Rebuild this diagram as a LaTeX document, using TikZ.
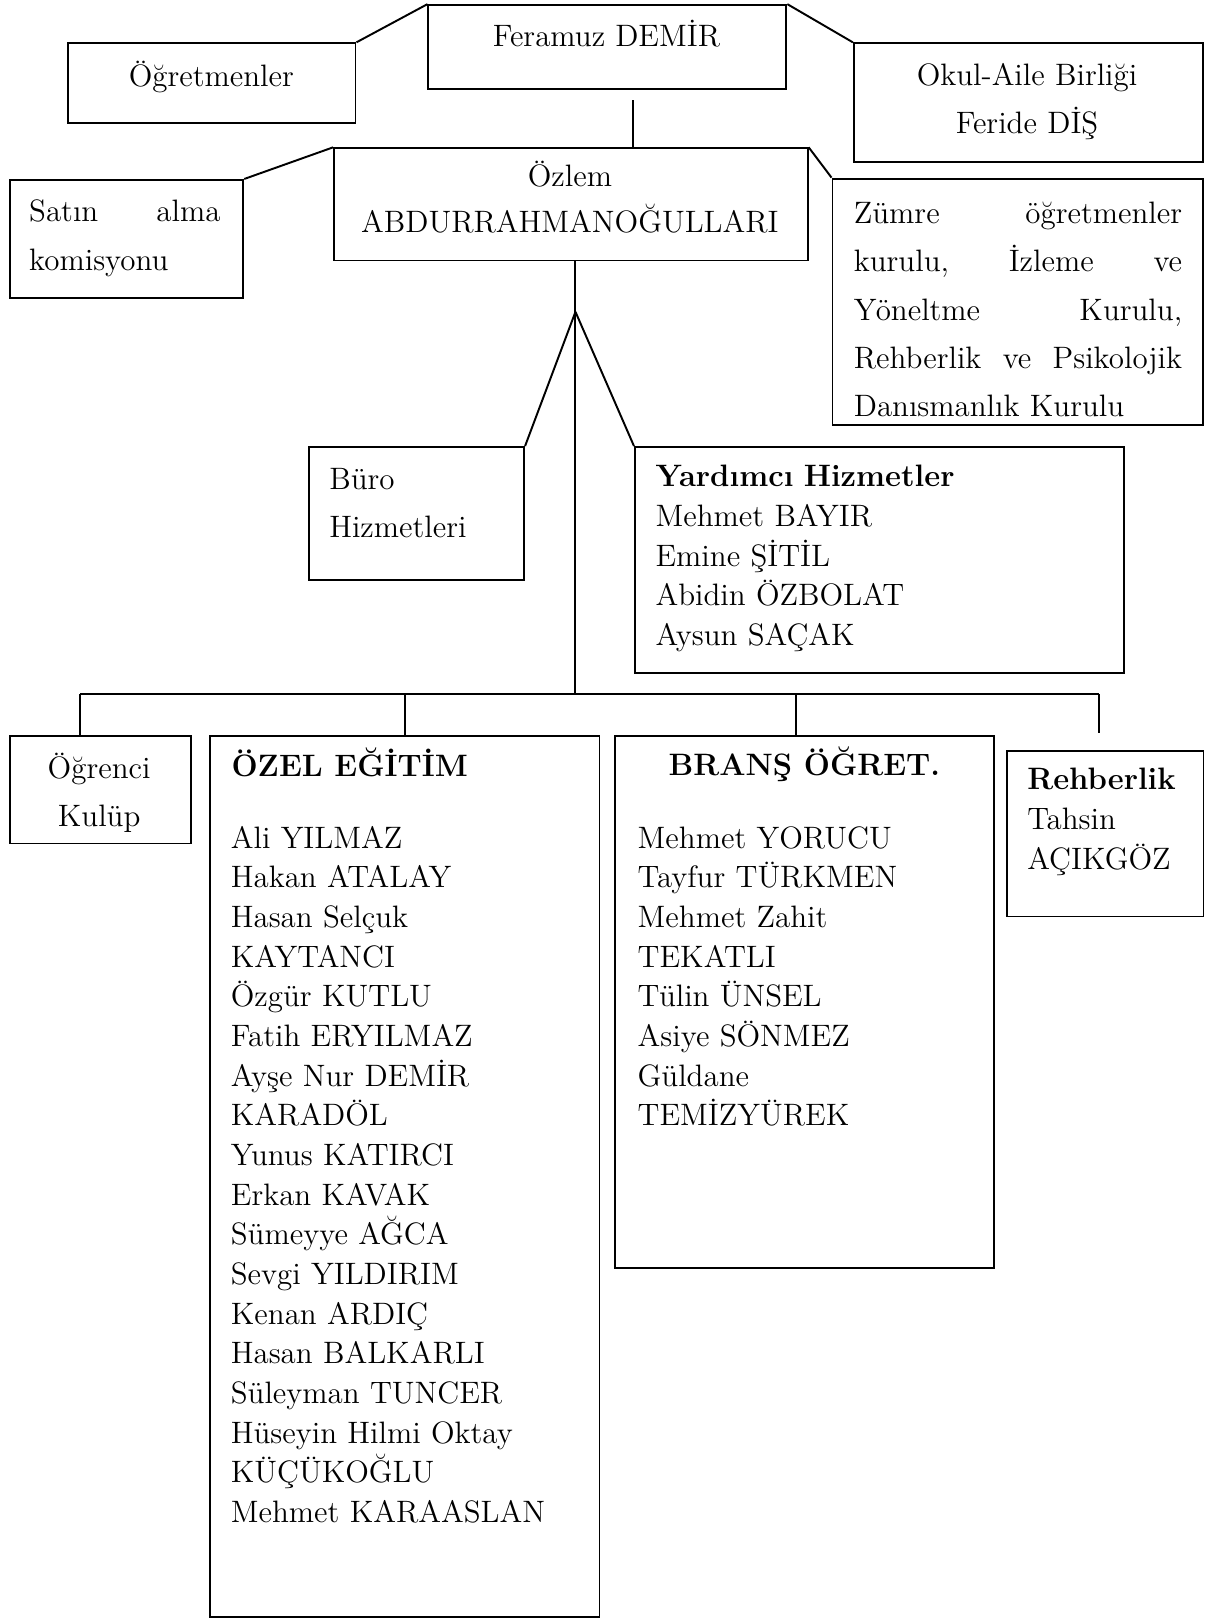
\documentclass[tikz,border=0pt]{standalone}
\usepackage{fontspec}

\begin{document}
\begin{tikzpicture}[line width=0.8pt,
        font=\fontsize{12.8}{16.4}\selectfont,
        unit/.style={draw, anchor=north west, inner sep=0pt},
        lbl/.style={anchor=base west, inner sep=0pt, align=left},
        clbl/.style={anchor=base, inner sep=0pt, align=center},
        wide/.style={font=\fontsize{12.8}{20}\selectfont}]
        \useasboundingbox (0,0) rectangle (17.505,-23.52);

        % Top: head of school and the two side units
        \node[unit, minimum width=5.20cm, minimum height=1.22cm] (feramuz) at (6.21,-0.06) {};
        \node[clbl] (feramuztxt) at (8.81,-0.678) {Feramuz DEMİR};

        \node[unit, minimum width=4.17cm, minimum height=1.155cm] (ogretmen) at (0.98,-0.615) {};
        \node[clbl] (ogretmentxt) at (3.07,-1.25) {Öğretmenler};

        \node[unit, minimum width=5.07cm, minimum height=1.73cm] (okul) at (12.39,-0.615) {};
        \node[clbl, wide, text width=4.8cm] (okultxt) at (14.92,-1.235) {Okul-Aile Birliği\\Feride DİŞ};

        \draw (feramuz.north west) -- (ogretmen.north east);
        \draw (feramuz.north east) -- (okul.north west);

        % Second level: deputy and the committees
        \node[unit, minimum width=6.88cm, minimum height=1.63cm] (ozlem) at (4.84,-2.14) {};
        \node[clbl, text width=6.6cm, font=\fontsize{12.8}{18.85}\selectfont] (ozlemtxt) at (8.28,-2.715) {Özlem\\ABDURRAHMANOĞULLARI};

        \node[unit, minimum width=3.39cm, minimum height=1.72cm] (satin) at (0.13,-2.60) {};
        \node[lbl, wide, text width=2.78cm] (satintxt) at (0.41,-3.22) {Satın\hfill alma\\komisyonu};

        \node[unit, minimum width=5.38cm, minimum height=3.585cm] (zumre) at (12.08,-2.58) {};
        \node[lbl, wide, text width=4.77cm] (zumretxt) at (12.39,-3.245) {Zümre\hfill öğretmenler\\kurulu,\hfill İzleme\hfill ve\\Yöneltme\hfill Kurulu,\\Rehberlik\hfill ve\hfill Psikolojik\\Danısmanlık Kurulu};

        \coordinate (stub) at (9.19,-1.455);
        \draw (stub) -- (stub |- ozlem.north);
        \draw (ozlem.north west) -- (satin.north east);
        \draw (ozlem.north east) -- (zumre.north west);

        % Services under the deputy
        \node[unit, minimum width=3.13cm, minimum height=1.93cm] (buro) at (4.47,-6.48) {};
        \node[lbl, wide, text width=2.6cm] (burotxt) at (4.77,-7.11) {Büro\\Hizmetleri};

        \node[unit, minimum width=7.11cm, minimum height=3.28cm] (yard) at (9.21,-6.48) {};
        \node[lbl, text width=6.6cm] (yardtxt) at (9.51,-7.07) {\textbf{Yardımcı Hizmetler}\\Mehmet BAYIR\\Emine ŞİTİL\\Abidin ÖZBOLAT\\Aysun SAÇAK};

        \coordinate (apex) at (8.36,-4.53);
        \draw (apex) -- (buro.north east);
        \draw (apex) -- (yard.north west);

        % Bottom row: clubs, teachers, guidance
        \node[unit, minimum width=2.63cm, minimum height=1.56cm] (ogrenci) at (0.13,-10.68) {};
        \node[clbl, wide, text width=2.4cm] (ogrencitxt) at (1.44,-11.31) {Öğrenci\\Kulüp};

        \node[unit, minimum width=5.655cm, minimum height=12.80cm] (ozel) at (3.04,-10.68) {};
        \node[lbl] (ozelhead) at (3.35,-11.28) {\bfseries ÖZEL EĞİTİM};
        \node[lbl, text width=5.2cm] (ozellist) at (3.34,-12.32) {Ali YILMAZ\\Hakan ATALAY\\Hasan Selçuk\\KAYTANCI\\Özgür KUTLU\\Fatih ERYILMAZ\\Ayşe Nur DEMİR\\KARADÖL\\Yunus KATIRCI\\Erkan KAVAK\\Sümeyye AĞCA\\Sevgi YILDIRIM\\Kenan ARDIÇ\\Hasan BALKARLI\\Süleyman TUNCER\\Hüseyin Hilmi Oktay\\KÜÇÜKOĞLU\\Mehmet KARAASLAN};

        \node[unit, minimum width=5.50cm, minimum height=7.73cm] (brans) at (8.92,-10.68) {};
        \node[clbl] (branshead) at (11.685,-11.27) {\bfseries BRANŞ ÖĞRET.};
        \node[lbl, text width=5.0cm] (branslist) at (9.25,-12.32) {Mehmet YORUCU\\Tayfur TÜRKMEN\\Mehmet Zahit\\TEKATLI\\Tülin ÜNSEL\\Asiye SÖNMEZ\\Güldane\\TEMİZYÜREK};

        \node[unit, minimum width=2.86cm, minimum height=2.40cm] (rehber) at (14.61,-10.90) {};
        \node[lbl, text width=2.5cm] (rehbertxt) at (14.91,-11.475) {\textbf{Rehberlik}\\Tahsin\\AÇIKGÖZ};

        % Trunk and bus
        \coordinate (busL) at (1.165,-10.08);
        \coordinate (busR) at (15.97,-10.08);
        \coordinate (bransdrop) at (11.57,-10.08);
        \coordinate (rehbend) at (15.97,-10.65);
        \draw (apex |- ozlem.south) -- (apex |- busL);
        \draw (busL) -- (busR);
        \draw (busL) -- (busL |- ogrenci.north);
        \draw (ozel.north) -- (ozel.north |- busL);
        \draw (bransdrop) -- (bransdrop |- brans.north);
        \draw (busR) -- (rehbend);
    \end{tikzpicture}
\end{document}
